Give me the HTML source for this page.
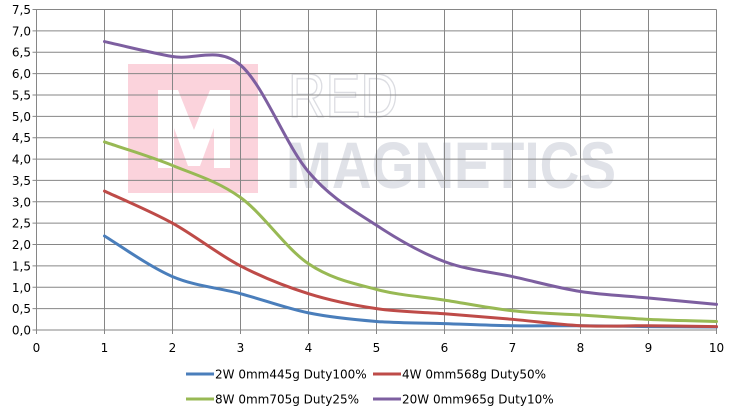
<!DOCTYPE html>
<html><head><meta charset="utf-8"><style>
html,body{margin:0;padding:0;background:#fff;}
svg{display:block;font-family:"DejaVu Sans","Liberation Sans",sans-serif;}
</style></head><body>
<svg id="chart" width="729" height="419" viewBox="0 0 729 419" xmlns="http://www.w3.org/2000/svg">
<g>
<rect x="128" y="64" width="130" height="129" fill="#fbd3dc"/>
<path d="M158 90 H178 L194 130 L210 90 H230 V168 H214 V128 L200 166 H188 L174 128 V168 H158 Z" fill="#fff"/>
<text x="288" y="117" font-size="62" font-family="Liberation Sans, sans-serif" font-weight="normal" fill="none" stroke="#dcdde2" stroke-width="1.5" textLength="110" lengthAdjust="spacingAndGlyphs">RED</text>
<text x="286" y="188" font-size="66" font-family="Liberation Sans, sans-serif" font-weight="bold" fill="#e0e2e8" textLength="330" lengthAdjust="spacingAndGlyphs">MAGNETICS</text>
</g>
<g id="grid"></g>
<g id="axes"></g>
<g id="series"></g>
<g id="legend"></g>
</svg>
<script>
const xCategories = [1,2,3,4,5,6,7,8,9,10];
const series2W = [2.2,1.25,0.85,0.4,0.2,0.15,0.1,0.1,0.08,0.07];
const series4W = [3.25,2.5,1.5,0.85,0.5,0.38,0.25,0.1,0.1,0.08];
const series8W = [4.4,3.85,3.1,1.55,0.95,0.7,0.45,0.35,0.25,0.2];
const series20W = [6.75,6.4,6.2,3.7,2.45,1.6,1.25,0.9,0.75,0.6];
const seriesNames = ["2W 0mm445g Duty100%","4W 0mm568g Duty50%","8W 0mm705g Duty25%","20W 0mm965g Duty10%"];
const seriesColors = ["#4a7ebb","#be4b48","#98b954","#7d5fa0"];
const yTicks = [0,0.5,1,1.5,2,2.5,3,3.5,4,4.5,5,5.5,6,6.5,7,7.5];
const yTickLabels = ["0,0","0,5","1,0","1,5","2,0","2,5","3,0","3,5","4,0","4,5","5,0","5,5","6,0","6,5","7,0","7,5"];
const xTicks = [0,1,2,3,4,5,6,7,8,9,10];

const NS="http://www.w3.org/2000/svg";
const X0=36.5,X1=716.5,Y0=330,Y1=9.5;
const xs=v=>X0+(v/10)*(X1-X0);
const ys=v=>Y0-(v/7.5)*(Y0-Y1);
function mk(tag,attrs,parent){const e=document.createElementNS(NS,tag);for(const k in attrs)e.setAttribute(k,attrs[k]);parent.appendChild(e);return e;}
const grid=document.getElementById('grid'),axes=document.getElementById('axes'),ser=document.getElementById('series'),leg=document.getElementById('legend');
yTicks.forEach((t,i)=>{
 const l=mk('line',{x1:X0-4,x2:X1,y1:ys(t),y2:ys(t),stroke:'#868686','stroke-width':1},grid);
 
 
 const tx=mk('text',{x:31,y:ys(t)+4.5,'text-anchor':'end','font-size':12,fill:'#000'},axes);
 tx.textContent=yTickLabels[i];
 
 
});
xTicks.forEach(t=>{
 const l=mk('line',{x1:xs(t),x2:xs(t),y1:Y1,y2:Y0+4,stroke:'#868686','stroke-width':1},grid);
 
 
 const tx=mk('text',{x:xs(t),y:352,'text-anchor':'middle','font-size':12,fill:'#000'},axes);
 tx.textContent=String(t);
 
 
});
function smooth(pts){
 let d=`M${pts[0][0]},${pts[0][1]}`;
 for(let i=0;i<pts.length-1;i++){
  const p0=pts[i-1]||pts[i],p1=pts[i],p2=pts[i+1],p3=pts[i+2]||p2;
  const c1=[p1[0]+(p2[0]-p0[0])/6,p1[1]+(p2[1]-p0[1])/6];
  const c2=[p2[0]-(p3[0]-p1[0])/6,p2[1]-(p3[1]-p1[1])/6];
  d+=` C${c1[0]},${c1[1]} ${c2[0]},${c2[1]} ${p2[0]},${p2[1]}`;
 }
 return d;
}
const allSeries=[series2W,series4W,series8W,series20W];
const seriesKeys=['2w','4w','8w','20w'];
allSeries.forEach((s,k)=>{
 const pts=s.map((v,i)=>[xs(xCategories[i]),ys(v)]);
 const p=mk('path',{d:smooth(pts),fill:'none',stroke:seriesColors[k],'stroke-width':3,'stroke-linecap':'round'},ser);
 
 
});
const legPos=[[186,374],[373,374],[186,399],[373,399]];
seriesNames.forEach((n,k)=>{
 const [lx,ly]=legPos[k];
 const g=mk('g',{},leg);
 
 
 mk('line',{x1:lx,x2:lx+28,y1:ly,y2:ly,stroke:seriesColors[k],'stroke-width':3},g);
 const t=mk('text',{x:lx+29,y:ly+4.5,'font-size':12,fill:'#000'},g);
 t.textContent=n;
});
</script>
</body></html>
